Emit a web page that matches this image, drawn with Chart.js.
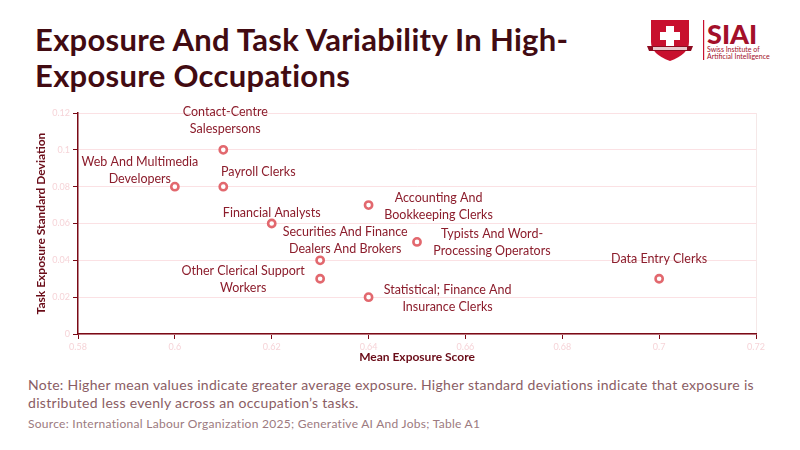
<!DOCTYPE html>
<html>
<head>
<meta charset="utf-8">
<script src="https://cdn.jsdelivr.net/npm/chart.js@4"></script>
<style>
  html, body { margin: 0; padding: 0; background: #fff; }
  body { width: 800px; height: 450px; position: relative; overflow: hidden; font-family: Lato, "Open Sans", sans-serif; }
  #title { position: absolute; left: 35px; top: 21px; font-weight: 700; font-size: 31px; line-height: 36px; color: #420b12; letter-spacing: 0.3px; }
  #wrap { position: absolute; left: 0; top: 100px; width: 800px; height: 275px; }
  #note { position: absolute; left: 28px; top: 376px; font-size: 14px; line-height: 17.5px; color: #8a5d64; letter-spacing: 0.3px; }
  #source { position: absolute; left: 28px; top: 416px; font-size: 12px; color: #9c7a80; letter-spacing: 0.28px; }
  #logo { position: absolute; left: 645px; top: 16px; width: 130px; height: 48px; }
</style>
</head>
<body>
<div id="title">Exposure And Task Variability In High-<br>Exposure Occupations</div>
<svg id="logo" viewBox="0 0 130 48" xmlns="http://www.w3.org/2000/svg">
  <path d="M6 4 H44 V26 Q44 38 25 45 Q6 38 6 26 Z" fill="#c8102e"/>
  <rect x="21" y="10" width="8" height="20" fill="#fff"/>
  <rect x="15" y="16" width="20" height="8" fill="#fff"/>
  <path d="M2 30 H48 L46 35 H4 Z" fill="#8e0b20"/>
  <rect x="8" y="31" width="34" height="3" fill="#e8c8cc"/>
  <rect x="58" y="4" width="1.2" height="40" fill="#c8102e"/>
  <text x="62" y="28" font-family="Lato, sans-serif" font-weight="900" font-size="27" fill="#a3102a">SIAI</text>
  <text x="62" y="36" font-family="Lato, sans-serif" font-size="7" fill="#a3102a">Swiss Institute of</text>
  <text x="62" y="43" font-family="Lato, sans-serif" font-size="7" fill="#a3102a">Artificial Intelligence</text>
</svg>
<div id="wrap"><canvas id="c"></canvas></div>
<div id="note">Note: Higher mean values indicate greater average exposure. Higher standard deviations indicate that exposure is<br>distributed less evenly across an occupation’s tasks.</div>
<div id="source">Source: International Labour Organization 2025; Generative AI And Jobs; Table A1</div>
<script>
// ---- data ----
const occupations = [
  ["Contact-Centre", "Salespersons"],
  ["Web And Multimedia", "Developers"],
  ["Payroll Clerks"],
  ["Financial Analysts"],
  ["Accounting And", "Bookkeeping Clerks"],
  ["Securities And Finance", "Dealers And Brokers"],
  ["Typists And Word-", "Processing Operators"],
  ["Other Clerical Support", "Workers"],
  ["Statistical; Finance And", "Insurance Clerks"],
  ["Data Entry Clerks"]
];
const meanExposure = [0.61, 0.60, 0.61, 0.62, 0.64, 0.63, 0.65, 0.63, 0.64, 0.70];
const taskStdDev   = [0.10, 0.08, 0.08, 0.06, 0.07, 0.04, 0.05, 0.03, 0.02, 0.03];
const xTickLabels = ["0.58", "0.6", "0.62", "0.64", "0.66", "0.68", "0.7", "0.72"];
const yTickLabels = ["0", "0.02", "0.04", "0.06", "0.08", "0.1", "0.12"];

// label placement (text-block centre relative to point, px)
const labelPlacement = [
  [2, -29], [-35, -16], [35, -15], [0, -11], [70, 1],
  [25, -20], [75, 1], [-77, 1], [79, 1], [0, -20]
];

const AXIS = '#7a0a16';
const labelPlugin = {
  id: 'pointLabels',
  afterDatasetsDraw(chart) {
    const ctx = chart.ctx;
    const meta = chart.getDatasetMeta(0);
    ctx.save();
    ctx.font = '12.5px Lato, sans-serif';
    ctx.fillStyle = '#8c1d2c';
    ctx.textAlign = 'center';
    ctx.textBaseline = 'middle';
    const lh = 17;
    meta.data.forEach((pt, i) => {
      const lines = occupations[i];
      const [dx, dy] = labelPlacement[i];
      const cx = pt.x + dx;
      const cy = pt.y + dy;
      const top = cy - (lines.length - 1) * lh / 2;
      lines.forEach((t, j) => ctx.fillText(t, cx, top + j * lh));
    });
    ctx.restore();
  }
};

new Chart(document.getElementById('c'), {
  type: 'scatter',
  data: {
    datasets: [{
      data: meanExposure.map((x, i) => ({ x: x, y: taskStdDev[i] })),
      pointRadius: 3.6,
      pointHoverRadius: 3.6,
      borderWidth: 2.6,
      borderColor: '#e2686e',
      backgroundColor: '#ffffff'
    }]
  },
  options: {
    responsive: true,
    maintainAspectRatio: false,
    animation: false,
    layout: { padding: { left: 30, right: 44, top: 13, bottom: 7 } },
    plugins: { legend: { display: false }, tooltip: { enabled: false } },
    scales: {
      x: {
        type: 'linear', min: 0.58, max: 0.72,
        afterFit: s => { s.height = 34; },
        ticks: {
          stepSize: 0.02, color: '#f6d4d8', font: { size: 9, family: 'Lato' }, padding: 3,
          callback: (v, i) => xTickLabels[i]
        },
        grid: {
          color: c => (c.index === xTickLabels.length - 1 ? '#f5e8e8' : 'rgba(0,0,0,0)'),
          tickColor: AXIS, tickLength: 5, lineWidth: 1
        },
        border: { color: AXIS, width: 1.5 },
        title: { display: true, text: 'Mean Exposure Score', color: '#6a0c18', font: { size: 12, weight: 'bold', family: 'Lato' }, padding: { top: 2, bottom: 4 } }
      },
      y: {
        type: 'linear', min: 0, max: 0.12,
        afterFit: s => { s.width = 48; },
        ticks: {
          stepSize: 0.02, color: '#f6d4d8', font: { size: 9, family: 'Lato' }, padding: 3,
          callback: (v, i) => yTickLabels[i]
        },
        grid: { color: '#fbe1e4', tickColor: AXIS, tickLength: 5, lineWidth: 1 },
        border: { color: AXIS, width: 1.5 },
        title: { display: true, text: 'Task Exposure Standard Deviation', color: '#6a0c18', font: { size: 12, weight: 'bold', family: 'Lato' }, padding: 4 }
      }
    }
  },
  plugins: [labelPlugin]
});
</script>
</body>
</html>
